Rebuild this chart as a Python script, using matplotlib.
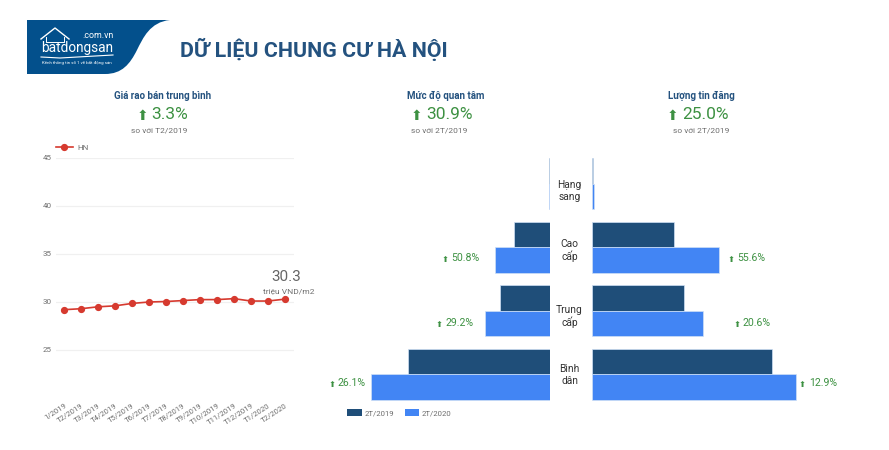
import matplotlib
matplotlib.use('Agg')
import matplotlib.pyplot as plt
from matplotlib.patches import PathPatch, Patch
from matplotlib.path import Path

W, H = 889, 450

months = ['1/2019', 'T2/2019', 'T3/2019', 'T4/2019', 'T5/2019', 'T6/2019', 'T7/2019',
          'T8/2019', 'T9/2019', 'T10/2019', 'T11/2019', 'T12/2019', 'T1/2020', 'T2/2020']
price_hn = [29.2, 29.3, 29.5, 29.6, 29.85, 30.0, 30.05, 30.15, 30.25, 30.25, 30.35, 30.1, 30.1, 30.3]

segments = ['Hạng\nsang', 'Cao\ncấp', 'Trung\ncấp', 'Bình\ndân']
interest_2019 = [0.8, 36.5, 50, 142]
interest_2020 = [0.8, 55, 65, 179]
interest_labels = ['50.8%', '29.2%', '26.1%']
listings_2019 = [0.8, 82, 92, 180]
listings_2020 = [1.5, 127, 111, 204]
listings_labels = ['55.6%', '20.6%', '12.9%']

DARK = '#1f4e79'
BLUE = '#4285f4'
GREEN = '#3d9142'
GREY = '#6e6e6e'
RED = '#d63a2f'

plt.rcParams['font.family'] = ['Roboto', 'DejaVu Sans']


def px_axes(fig, left, top, right, bottom):
    return fig.add_axes([left / W, 1 - bottom / H, (right - left) / W, (bottom - top) / H])


def draw_bars(ax, values_2019, values_2020, flip):
    y = range(len(segments))
    height = 0.405
    ax.barh([i - height / 2 for i in y], values_2019, height, color=DARK, edgecolor='#cfe0f5', linewidth=0.5)
    ax.barh([i + height / 2 for i in y], values_2020, height, color=BLUE, edgecolor='#cfe0f5', linewidth=0.5)
    ax.set_ylim(3.5, -0.5)
    ax.set_xlim(210, 0) if flip else ax.set_xlim(0, 210)
    ax.axis('off')


fig = plt.figure(figsize=(W / 100, H / 100), dpi=100)

# line chart
ax = px_axes(fig, 55.5, 158, 293.5, 398)
ax.plot(range(len(months)), price_hn, color=RED, lw=1.2, marker='o', ms=4.2, label='HN')
ax.set_xlim(-0.5, 13.5)
ax.set_ylim(20, 45)
ax.set_yticks([25, 30, 35, 40, 45])
ax.set_xticks(range(len(months)))
ax.set_xticklabels(months, rotation=33, ha='right', rotation_mode='anchor', fontsize=5.6, color=GREY)
ax.tick_params(length=0)
ax.tick_params(axis='y', labelsize=5.8, labelcolor=GREY, pad=3)
ax.tick_params(axis='x', pad=3)
ax.grid(axis='y', color='#f0f0f0', lw=0.9)
ax.set_axisbelow(True)
for s in ax.spines.values():
    s.set_visible(False)
ax.legend(loc='lower left', bbox_to_anchor=(0.0, 1.03), frameon=False, fontsize=5.8,
          labelcolor=GREY, handlelength=2.2, handletextpad=0.5, borderpad=0, borderaxespad=0)

# pyramid bars
ax_left = px_axes(fig, 340, 152, 550, 406)
draw_bars(ax_left, interest_2019, interest_2020, True)
ax_right = px_axes(fig, 592, 152, 802, 406)
draw_bars(ax_right, listings_2019, listings_2020, False)

# overlay in pixel coordinates for header, captions and labels
ov = fig.add_axes([0, 0, 1, 1], facecolor='none')
ov.set_xlim(0, W)
ov.set_ylim(H, 0)
ov.axis('off')

# logo
logo = Path([(27, 20), (170, 20), (150, 22), (143, 38), (137, 50), (130, 64), (122, 74), (105, 74), (27, 74), (27, 20)],
            [Path.MOVETO, Path.LINETO, Path.CURVE4, Path.CURVE4, Path.CURVE4, Path.CURVE4, Path.CURVE4, Path.CURVE4,
             Path.LINETO, Path.CLOSEPOLY])
ov.add_patch(PathPatch(logo, facecolor='#03508c', edgecolor='none'))
ov.plot([41, 55, 69], [39, 28, 39], color='white', lw=1)
ov.plot([46, 46, 64, 64], [37, 42, 42, 37], color='white', lw=0.7)
ov.plot([41, 60, 113], [57, 58, 55], color='white', lw=0.8)
ov.text(114, 35, '.com.vn', color='white', fontsize=6.4, ha='right', va='center')
ov.text(41.5, 48, 'batdongsan', color='white', fontsize=9.8, ha='left', va='center')
ov.text(41.5, 63, 'Kênh thông tin số 1 về bất động sản', color='white', fontsize=3.2, ha='left', va='center')

ov.text(180, 49.5, 'DỮ LIỆU CHUNG CƯ HÀ NỘI', color='#24527f', fontsize=15.4, fontweight='bold', ha='left', va='center')

headers = [(162.5, 'Giá rao bán trung bình', '3.3%', 'so với T2/2019', 142, 159.5),
           (445.5, 'Mức độ quan tâm', '30.9%', 'so với 2T/2019', 416.5, 439.5),
           (701, 'Lượng tin đăng', '25.0%', 'so với 2T/2019', 672.5, 701)]
for cx, title, pct, note, arrow_x, note_x in headers:
    ov.text(cx, 96, title, color='#24527f', fontsize=7, fontweight='bold', ha='center', va='center')
    ov.text(arrow_x + 9.5, 114.5, pct, color=GREEN, fontsize=12.5, ha='left', va='center')
    ov.text(arrow_x, 115.5, '⬆', color=GREEN, fontsize=10, ha='center', va='center', family='DejaVu Sans')
    ov.text(note_x, 130.5, note, color=GREY, fontsize=6, ha='center', va='center')

ov.text(286.5, 277, '30.3', color='#666666', fontsize=11, ha='center', va='center')
ov.text(289, 291, 'triệu VND/m2', color=GREY, fontsize=6, ha='center', va='center')

for cy, name in zip([191.5, 250.5, 316.5, 375.5], segments):
    ov.text(569.5, cy, name, color='#333333', fontsize=7.4, ha='center', va='center', linespacing=1.25)

pct_positions = [(445, 479, 258.5), (439, 474, 324), (332, 366, 384),
                 (731, 765, 258.5), (737, 771, 324), (802, 837, 384)]
for (ax_x, tx, cy), label in zip(pct_positions, interest_labels + listings_labels):
    ov.text(ax_x, cy + 0.5, '⬆', color=GREEN, fontsize=6, ha='center', va='center', family='DejaVu Sans')
    ov.text(tx, cy - 0.5, label, color=GREEN, fontsize=7.6, ha='right', va='center')

handles = [Patch(facecolor=DARK, label='2T/2019'), Patch(facecolor=BLUE, label='2T/2020')]
fig.legend(handles=handles, loc='center left', bbox_to_anchor=(347 / W, 1 - 413 / H), ncol=2, frameon=False,
           fontsize=5.6, labelcolor=GREY, handlelength=1.9, handleheight=1.0, handletextpad=0.3,
           columnspacing=1.4, borderpad=0, borderaxespad=0)

fig.savefig('out.png', dpi=100)
